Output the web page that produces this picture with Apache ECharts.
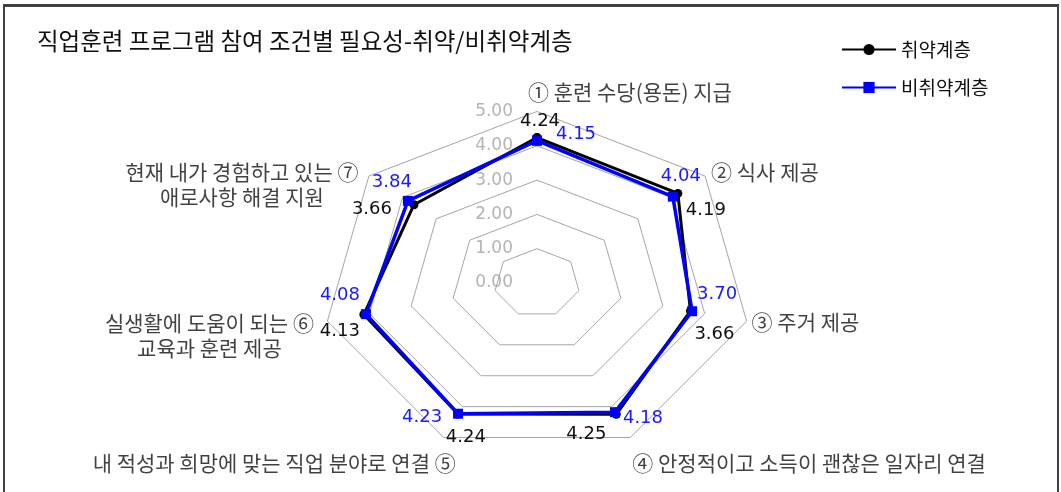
<!DOCTYPE html>
<html>
<head>
<meta charset="utf-8">
<script src="https://cdn.jsdelivr.net/npm/echarts@6/dist/echarts.min.js"></script>
<style>
  html, body { margin: 0; padding: 0; background: #fff; }
  #chart { position: absolute; left: 0; top: 0; width: 1061px; height: 492px; }
  #frame {
    position: absolute; left: 3px; top: 4px; width: 1052px; height: 492px;
    border-top: 3px solid #404040; border-left: 2px solid #404040; border-right: 2px solid #404040;
    pointer-events: none;
  }
</style>
</head>
<body>
<div id="chart"></div>
<div id="frame"></div>
<script>
// 항목 (시계방향, 맨 위부터)
const categories = [
  "① 훈련 수당(용돈) 지급",
  "② 식사 제공",
  "③ 주거 제공",
  "④ 안정적이고 소득이 괜찮은 일자리 연결",
  "내 적성과 희망에 맞는 직업 분야로 연결 ⑤",
  "실생활에 도움이 되는 ⑥\n교육과 훈련 제공",
  "현재 내가 경험하고 있는 ⑦\n애로사항 해결 지원"
];
const seriesNames = ["취약계층", "비취약계층"];
const vulnerable = [4.24, 4.19, 3.66, 4.25, 4.24, 4.13, 3.66];
const nonVulnerable = [4.15, 4.04, 3.70, 4.18, 4.23, 4.08, 3.84];
const ticks = [0, 1, 2, 3, 4, 5];
const maxValue = 5;

// 라벨 위치 조정 (픽셀)
const vulnLabelOffset = [[3, -16], [28, 17], [24, 23], [-30, 20], [8, 23], [-24, 17], [-42, 5]];
const nonVulnLabelOffset = [[39, -6], [8, -20], [25, -17], [28, 6], [-36, 4], [-26, -19], [-16, -19]];
const catLabelStyle = [
  { align: "left", offset: [-9, -19] },
  { align: "left", offset: [6, -4] },
  { align: "left", offset: [5, 1] },
  { align: "left", offset: [2, 25] },
  { align: "right", offset: [12, 25] },
  { align: "center", offset: [-118, 14] },
  { align: "center", offset: [-127, 8] }
];

const korFont = '"Noto Sans CJK KR"';
const numFont = '"DejaVu Sans"';
const n = categories.length;

// 값 -> 평면 좌표 (맨 위에서 시계방향)
function toXY(v, k) {
  const a = Math.PI / 2 - (k * 2 * Math.PI) / n;
  return [v * Math.cos(a), v * Math.sin(a)];
}

function ring(level) {
  let pts = [];
  for (let k = 0; k <= n; k++) pts.push(toXY(level, k % n));
  return pts;
}

function polygon(values, offsets) {
  let pts = [];
  for (let k = 0; k <= n; k++) {
    const i = k % n;
    pts.push({
      value: toXY(values[i], i),
      label: k < n ? { offset: offsets[i] } : { show: false }
    });
  }
  return pts;
}

let series = [];
// 격자 (칠각형)
ticks.filter(t => t > 0).forEach(t => {
  series.push({
    type: "line",
    data: ring(t),
    symbol: "none",
    silent: true,
    z: 1,
    lineStyle: { color: "#a6a6a6", width: 1 }
  });
});

series.push({
  name: seriesNames[0],
  type: "line",
  data: polygon(vulnerable, vulnLabelOffset),
  symbol: "circle",
  symbolSize: 9,
  z: 3,
  clip: false,
  itemStyle: { color: "#000" },
  lineStyle: { color: "#000", width: 3 },
  label: {
    show: true,
    position: "inside",
    color: "#111",
    fontFamily: numFont,
    fontSize: 18,
    formatter: p => vulnerable[p.dataIndex % n].toFixed(2)
  }
});

series.push({
  name: seriesNames[1],
  type: "line",
  data: polygon(nonVulnerable, nonVulnLabelOffset),
  symbol: "rect",
  symbolSize: 10,
  z: 4,
  clip: false,
  itemStyle: { color: "#0000ff" },
  lineStyle: { color: "#0000ff", width: 3.5 },
  label: {
    show: true,
    position: "inside",
    color: "#1a1aff",
    fontFamily: numFont,
    fontSize: 18,
    formatter: p => nonVulnerable[p.dataIndex % n].toFixed(2)
  }
});

// 항목 이름
series.push({
  type: "scatter",
  silent: true,
  symbolSize: 1,
  clip: false,
  itemStyle: { color: "transparent" },
  data: categories.map((c, k) => ({
    value: toXY(maxValue, k),
    name: c,
    label: {
      show: true,
      position: "inside",
      align: catLabelStyle[k].align,
      verticalAlign: "middle",
      offset: catLabelStyle[k].offset,
      formatter: "{b}",
      color: "#111",
      fontFamily: korFont,
      fontSize: 21,
      lineHeight: 25
    }
  }))
});

let myChart = echarts.init(document.getElementById("chart"));
let option = {
  animation: false,
  backgroundColor: "#fff",
  title: {
    text: "직업훈련 프로그램 참여 조건별 필요성-취약/비취약계층",
    left: 32,
    top: 24,
    textStyle: { fontFamily: korFont, fontSize: 23.5, fontWeight: "normal", color: "#111" }
  },
  legend: {
    data: seriesNames,
    orient: "vertical",
    left: 836,
    top: 34,
    itemWidth: 54,
    itemHeight: 14,
    itemGap: 17,
    textStyle: { fontFamily: korFont, fontSize: 19, color: "#111", lineHeight: 21 }
  },
  grid: { left: 279, top: 77.2, width: 516, height: 411.6 },
  xAxis: {
    type: "value",
    min: -6,
    max: 6,
    interval: 1,
    axisLine: { show: false, onZero: false },
    axisTick: { show: false },
    axisLabel: { show: false },
    splitLine: { show: false }
  },
  yAxis: {
    type: "value",
    min: -6,
    max: 6,
    interval: 1,
    position: "left",
    offset: -258, // 중심축으로 이동
    axisLine: { show: false, onZero: false },
    axisTick: { show: false },
    splitLine: { show: false },
    axisLabel: {
      margin: 24,
      color: "#b4b4b4",
      fontFamily: numFont,
      fontSize: 17,
      formatter: v => (ticks.indexOf(v) >= 0 ? v.toFixed(2) : "")
    }
  },
  series: series
};
myChart.setOption(option);
</script>
</body>
</html>
